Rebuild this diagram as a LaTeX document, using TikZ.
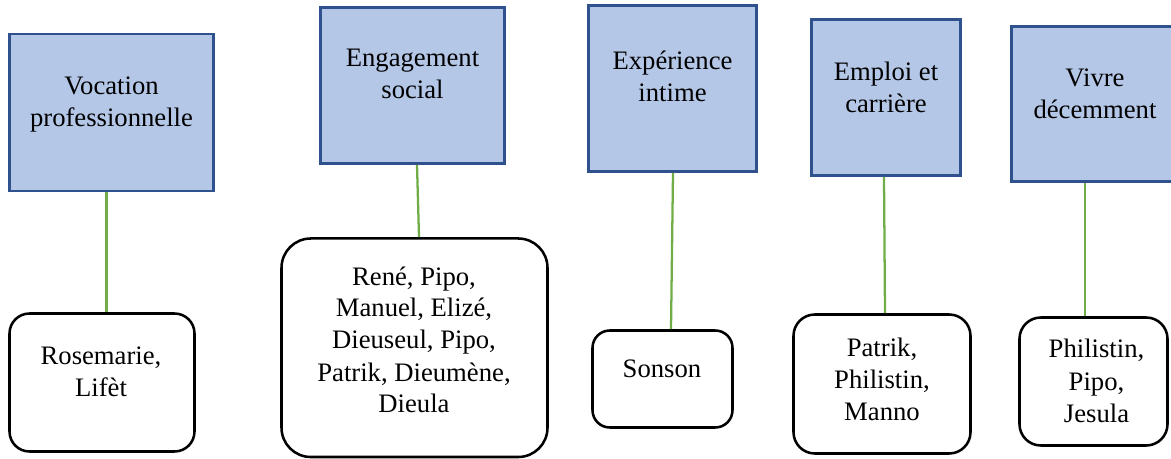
\documentclass[tikz,border=0pt]{standalone}
\usepackage{fontspec}
\setmainfont{Liberation Serif}
\definecolor{boxfill}{HTML}{B4C7E7}
\definecolor{boxline}{HTML}{2F528F}
\definecolor{conn}{HTML}{70AD47}
\tikzset{
  px/.style={x=0.75pt,y=-0.75pt},
  themebox/.style={draw=boxline, fill=boxfill, line width=2pt, rectangle, inner sep=0pt},
  namebox/.style={draw=black, fill=white, line width=1.9pt, rectangle, inner sep=0pt},
  lbl/.style={anchor=base, align=center, inner sep=0pt, font=\fontsize{20pt}{24pt}\selectfont},
  link/.style={draw=conn, line width=1.7pt}
}
\begin{document}
\begin{tikzpicture}[px]
\useasboundingbox (0,0) rectangle (1171,459);
% theme boxes
\node[themebox, minimum width=153pt, minimum height=117.75pt] (b1) at (111.5,112.5) {};
\node[themebox, minimum width=138pt, minimum height=117pt] (b2) at (412.5,85.5) {};
\node[themebox, minimum width=126pt, minimum height=124.5pt] (b3) at (672.5,88.5) {};
\node[themebox, minimum width=111.75pt, minimum height=117pt] (b4) at (886,97.5) {};
\node[themebox, minimum width=123.4pt, minimum height=116.25pt] (b5) at (1093.75,104) {};
% name boxes
\node[namebox, rounded corners=15pt, minimum width=138.75pt, minimum height=103.5pt] (r1) at (102,382.5) {};
\node[namebox, rounded corners=22pt, minimum width=199.5pt, minimum height=163.9pt] (r2) at (414.5,347.75) {};
\node[namebox, rounded corners=13pt, minimum width=105pt, minimum height=72.75pt] (r3) at (662.5,379) {};
\node[namebox, rounded corners=16pt, minimum width=132.75pt, minimum height=104.25pt] (r4) at (882,384) {};
\node[namebox, rounded corners=16pt, minimum width=111pt, minimum height=96pt] (r5) at (1093.5,381.5) {};
% connector x positions
\coordinate (x1) at (106.5,0);
\coordinate (x2a) at (417,0);
\coordinate (x2b) at (419,0);
\coordinate (x3a) at (673,0);
\coordinate (x3b) at (671,0);
\coordinate (x4a) at (884,0);
\coordinate (x4b) at (885,0);
\coordinate (x5) at (1085,0);
\draw[link] (b1.south -| x1) -- (r1.north -| x1);
\draw[link] (b2.south -| x2a) -- (r2.north -| x2b);
\draw[link] (b3.south -| x3a) -- (r3.north -| x3b);
\draw[link] (b4.south -| x4a) -- (r4.north -| x4b);
\draw[link] (b5.south -| x5) -- (r5.north -| x5);
% labels (anchor = baseline of last line)
\node[lbl] (t1) at (111.5,127) {Vocation\\professionnelle};
\node[lbl] (t2) at (412.5,99) {Engagement\\social};
\node[lbl] (t3) at (672.5,102) {Expérience\\intime};
\node[lbl] (t4) at (886,113) {Emploi et\\carrière};
\node[lbl] (t5) at (1095,119) {Vivre\\décemment};
\node[lbl] (n1) at (101,397) {Rosemarie,\\Lifèt};
\node[lbl] (n2) at (414,413) {René, Pipo,\\Manuel, Elizé,\\Dieuseul, Pipo,\\Patrik, Dieumène,\\Dieula};
\node[lbl] (n3) at (662,378) {Sonson};
\node[lbl] (n4) at (882,421) {Patrik,\\Philistin,\\Manno};
\node[lbl] (n5) at (1096.5,422) {Philistin,\\Pipo,\\Jesula};
\end{tikzpicture}
\end{document}
